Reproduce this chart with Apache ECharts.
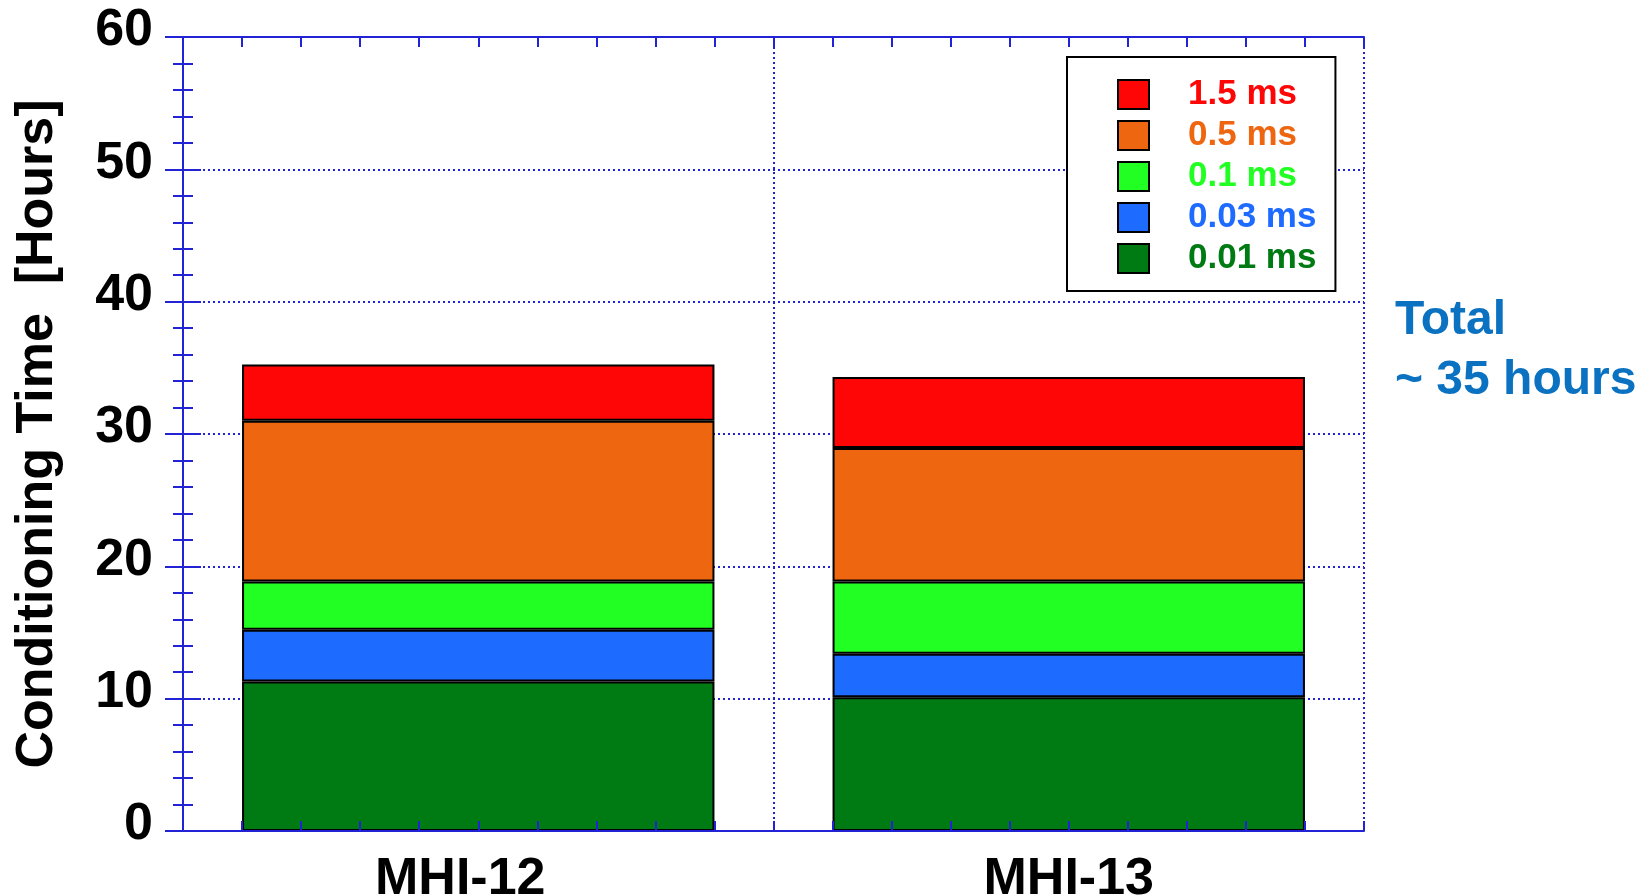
<!DOCTYPE html>
<html>
<head>
<meta charset="utf-8">
<script src="https://cdn.jsdelivr.net/npm/echarts@6/dist/echarts.min.js"></script>
<style>
html,body{margin:0;padding:0;background:#fff;}
#chart{width:1652px;height:896px;}
</style>
</head>
<body>
<div id="chart"></div>
<script>
var categories = ['MHI-12', 'MHI-13'];
var seriesNames = ['0.01 ms', '0.03 ms', '0.1 ms', '0.5 ms', '1.5 ms'];
var v001 = [11.3, 10.1];
var v003 = [3.9, 3.3];
var v01 = [3.65, 5.45];
var v05 = [12.15, 10.1];
var v15 = [4.25, 5.35];
var yTicks = [0, 10, 20, 30, 40, 50, 60];
var noteLines = ['Total', '~ 35 hours'];

var colors = ['#007A12', '#1E6BFF', '#22FF22', '#EF6611', '#FF0606'];
var values = [v001, v003, v01, v05, v15];
var axisBlue = '#2323D6';
var FONT = '"Liberation Sans", Arial, sans-serif';

var chart = echarts.init(document.getElementById('chart'));

var series = seriesNames.map(function (n, i) {
  return {
    name: n,
    type: 'bar',
    stack: 'total',
    xAxisIndex: 0,
    yAxisIndex: 0,
    barWidth: '80%',
    data: values[i],
    itemStyle: { color: colors[i], borderColor: '#000', borderWidth: 2 },
    emphasis: { disabled: true }
  };
});

var tickAxisX = function (pos, split) {
  return {
    type: 'value', min: 0, max: 2, interval: 1, position: pos,
    z: 5,
    axisLine: { show: true, onZero: false, lineStyle: { color: axisBlue, width: 2 } },
    axisTick: { show: true, inside: true, length: 10, lineStyle: { color: axisBlue, width: 2 } },
    minorTick: { show: true, splitNumber: 10, length: 10, lineStyle: { color: axisBlue, width: 2 } },
    axisLabel: { show: false },
    splitLine: { show: split, lineStyle: { color: axisBlue, width: 2, type: [2, 3] } }
  };
};

var option = {
  animation: false,
  backgroundColor: '#fff',
  grid: { left: 183, right: 288, top: 37, bottom: 65, containLabel: false, outerBoundsMode: 'none' },
  xAxis: [
    {
      type: 'category',
      data: [{ value: categories[0], textStyle: { padding: [0, 36, 0, 0] } }, categories[1]],
      position: 'bottom',
      axisLine: { show: false },
      axisTick: { show: false },
      axisLabel: { color: '#000', fontSize: 52, fontWeight: 'bold', fontFamily: FONT, margin: 23 },
      splitLine: { show: false }
    },
    tickAxisX('bottom', true),
    tickAxisX('top', false)
  ],
  yAxis: [
    {
      type: 'value', min: 0, max: 60, interval: 10, position: 'left',
      name: 'Conditioning Time  [Hours]',
      nameLocation: 'middle',
      nameGap: 119,
      nameTextStyle: { color: '#000', fontSize: 52, fontWeight: 'bold', fontFamily: FONT },
      axisLine: { show: true, lineStyle: { color: axisBlue, width: 2 } },
      axisTick: { show: true, inside: true, length: 18, lineStyle: { color: axisBlue, width: 2 } },
      minorTick: { show: true, splitNumber: 5, length: 10, lineStyle: { color: axisBlue, width: 2 } },
      axisLabel: {
        color: '#000', fontSize: 52, fontWeight: 'bold', fontFamily: FONT, margin: 30,
        formatter: function (v) { return yTicks.indexOf(v) >= 0 ? '{a|' + v + '}' : ''; },
        rich: {
          a: { color: '#000', fontSize: 52, fontWeight: 'bold', fontFamily: FONT, padding: [0, 0, 12, 0] }
        }
      },
      splitLine: { show: true, lineStyle: { color: axisBlue, width: 2, type: [2, 3] } }
    },
    {
      type: 'value', min: 0, max: 60, interval: 10, position: 'right',
      axisLine: { show: true, lineStyle: { color: axisBlue, width: 2 } },
      axisTick: { show: true, inside: true, length: 18, lineStyle: { color: axisBlue, width: 2 } },
      minorTick: { show: true, splitNumber: 5, length: 10, lineStyle: { color: axisBlue, width: 2 } },
      axisLabel: { show: false },
      splitLine: { show: false }
    }
  ],
  legend: {
    orient: 'vertical',
    left: 1067,
    top: 57,
    padding: [20, 19, 15, 50],
    backgroundColor: '#fff',
    borderColor: '#000',
    borderWidth: 2,
    itemWidth: 31,
    itemHeight: 29,
    itemGap: 6,
    selectedMode: false,
    data: seriesNames.slice().reverse().map(function (n) {
      var i = seriesNames.indexOf(n);
      return { name: n, icon: 'rect', textStyle: { color: colors[i] } };
    }),
    textStyle: { fontSize: 35, fontWeight: 'bold', fontFamily: FONT, padding: [0, 0, 0, 34] }
  },
  graphic: [
    { type: 'text', left: 1395, top: 297, style: { text: noteLines[0], fill: '#0B72C2', font: 'bold 48px "Liberation Sans", Arial, sans-serif' } },
    { type: 'text', left: 1395, top: 357, style: { text: noteLines[1], fill: '#0B72C2', font: 'bold 48px "Liberation Sans", Arial, sans-serif' } }
  ],
  series: series
};
chart.setOption(option);
</script>
</body>
</html>
